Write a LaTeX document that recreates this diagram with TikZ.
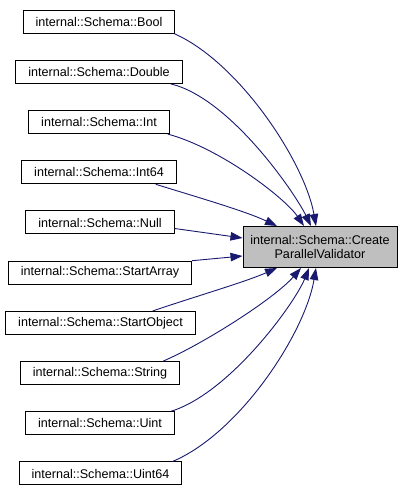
\documentclass[tikz,border=0pt]{standalone}
\usepackage{fontspec}
\setmainfont{Liberation Sans}
\usepackage{tikz}
\usetikzlibrary{arrows.meta}

\begin{document}
\begin{tikzpicture}[x=1pt, y=1pt,
	every node/.style={font=\fontsize{12.6}{14}\selectfont},
	funcbox/.style={draw=black, line width=1pt, fill=white, inner xsep=12.5pt, inner ysep=0pt, minimum height=23pt},
	curbox/.style={draw=black, line width=1pt, fill=black!25, inner sep=0pt, minimum width=154pt, minimum height=41pt, align=center},
	calledge/.style={draw={rgb,255:red,25;green,25;blue,112}, line width=0.9pt, -{Triangle[length=12pt, width=8.5pt]}}]
	\useasboundingbox (0,0) rectangle (412,493);

	% --- the function that is called ---
	\node[curbox] (create) at (320,246) {internal::Schema::Create\\ParallelValidator};

	% --- callers ---
	\node[funcbox] (bool) at (99,471.3) {internal::Schema::Bool};
	\node[funcbox] (double) at (99,421.1) {internal::Schema::Double};
	\node[funcbox] (int) at (99,370.9) {internal::Schema::Int};
	\node[funcbox] (int64) at (99,320.7) {internal::Schema::Int64};
	\node[funcbox] (null) at (100,270.5) {internal::Schema::Null};
	\node[funcbox] (startarray) at (100,220.3) {internal::Schema::StartArray};
	\node[funcbox] (startobject) at (100.5,170.1) {internal::Schema::StartObject};
	\node[funcbox] (string) at (100,119.9) {internal::Schema::String};
	\node[funcbox] (uint) at (100,69.7) {internal::Schema::Uint};
	\node[funcbox] (uint64) at (100.5,19.5) {internal::Schema::Uint64};

	% --- calls into the top edge ---
	\draw[calledge] ([xshift=-1pt]bool.south east) .. controls (240,430) and (305,330) .. ([xshift=-4pt]create.north);
	\draw[calledge] ([xshift=-12pt]double.south east) .. controls (230,395) and (295,300) .. ([xshift=-9pt]create.north);
	\draw[calledge] ([xshift=-2pt]int.south east) .. controls (220,345) and (285,295) .. ([xshift=-16pt]create.north);
	\draw[calledge] ([xshift=-21pt]int64.south east) .. controls (200,295) and (245,282) .. ([xshift=-43pt]create.north);

	% --- calls into the left edge ---
	\draw[calledge] ([yshift=-6pt]null.east) -- ([yshift=9pt]create.west);
	\draw[calledge] (startarray.north east) -- ([yshift=-9pt]create.west);

	% --- calls into the bottom edge ---
	\draw[calledge] ([xshift=-43pt]startobject.north east) .. controls (200,198) and (245,211) .. ([xshift=-43pt]create.south);
	\draw[calledge] ([xshift=-17pt]string.north east) .. controls (205,150) and (275,195) .. ([xshift=-19pt]create.south);
	\draw[calledge] ([xshift=-4pt]uint.north east) .. controls (230,100) and (295,190) .. ([xshift=-11pt]create.south);
	\draw[calledge] ([xshift=-10pt]uint64.north east) .. controls (240,60) and (305,160) .. ([xshift=-4pt]create.south);
\end{tikzpicture}
\end{document}
